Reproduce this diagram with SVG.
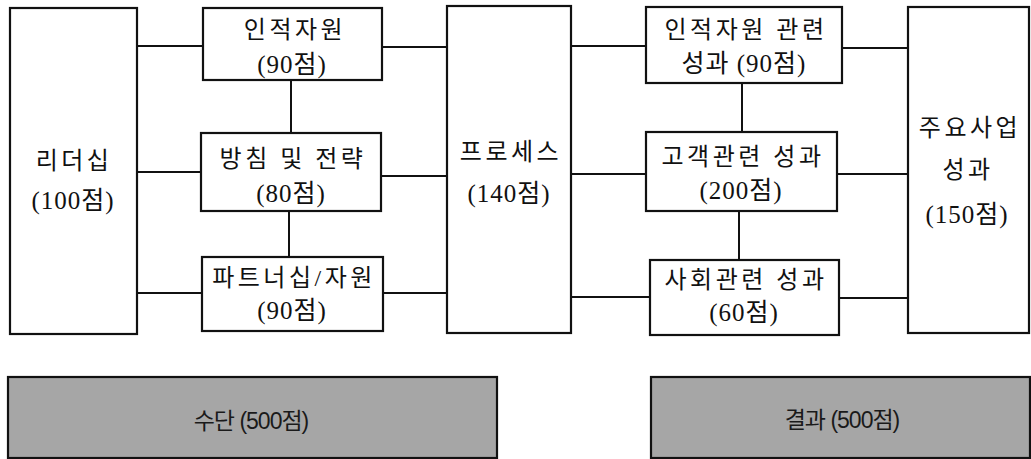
<svg xmlns="http://www.w3.org/2000/svg" width="1031" height="459" viewBox="0 0 1031 459">
<style>
.box{fill:#fff;stroke:#111;stroke-width:2.2}
.band{fill:#a6a6a6;stroke:#111;stroke-width:2.2}
.ln{stroke:#111;stroke-width:2;fill:none}
.t,.n{font-family:"Liberation Serif","Noto Sans CJK KR",serif;font-size:24px;fill:#111;text-anchor:middle;dominant-baseline:central}
.t{letter-spacing:3.5px}
.n{letter-spacing:1px;font-size:25px}
.b{font-family:"Liberation Sans","Noto Sans CJK KR",sans-serif;font-size:23px;fill:#1a1a1a;text-anchor:middle;dominant-baseline:central;letter-spacing:-1px}
</style>
<rect x="0" y="0" width="1031" height="459" fill="#fff"/>
<g id="connectors">
<path class="ln" d="M137 46H203M137 172H201M137 293H202"/>
<path class="ln" d="M291 80V133M289 211V257"/>
<path class="ln" d="M382 47H447M381 176H447M383 293H447"/>
<path class="ln" d="M571 46H646M571 174H646M571 297H650"/>
<path class="ln" d="M742 83V132M739 211V260"/>
<path class="ln" d="M842 48H908M837 174H908M839 298H908"/>
</g>
<g id="leadership"><rect class="box" x="10" y="8" width="127" height="326"/>
<text class="t" x="74" y="161">리더십</text><text class="n" x="73" y="200">(100점)</text></g>
<g id="hr"><rect class="box" x="203" y="8" width="179" height="72"/>
<text class="t" x="295" y="30">인적자원</text><text class="n" x="292" y="64">(90점)</text></g>
<g id="strategy"><rect class="box" x="201" y="133" width="180" height="78"/>
<text class="t" x="293" y="159">방침 및 전략</text><text class="n" x="291" y="193">(80점)</text></g>
<g id="partnership"><rect class="box" x="202" y="257" width="181" height="74"/>
<text class="t" x="294" y="278">파트너십/자원</text><text class="n" x="292" y="310">(90점)</text></g>
<g id="process"><rect class="box" x="447" y="6" width="124" height="327"/>
<text class="t" x="511" y="152">프로세스</text><text class="n" x="509" y="193">(140점)</text></g>
<g id="hr-result"><rect class="box" x="646" y="7" width="196" height="76"/>
<text class="t" x="746" y="30">인적자원 관련</text><text class="n" x="744" y="63">성과 (90점)</text></g>
<g id="customer-result"><rect class="box" x="646" y="132" width="191" height="79"/>
<text class="t" x="743" y="157">고객관련 성과</text><text class="n" x="741" y="190">(200점)</text></g>
<g id="society-result"><rect class="box" x="650" y="260" width="189" height="75"/>
<text class="t" x="746" y="280">사회관련 성과</text><text class="n" x="744" y="312">(60점)</text></g>
<g id="business-result"><rect class="box" x="908" y="7" width="121" height="326"/>
<text class="t" x="970" y="128">주요사업</text><text class="t" x="968" y="170">성과</text><text class="n" x="967" y="214">(150점)</text></g>
<g id="means"><rect class="band" x="8" y="377" width="489" height="81"/>
<text class="b" x="251" y="421">수단 (500점)</text></g>
<g id="results"><rect class="band" x="651" y="377" width="379" height="81"/>
<text class="b" x="842" y="420">결과 (500점)</text></g>
</svg>
